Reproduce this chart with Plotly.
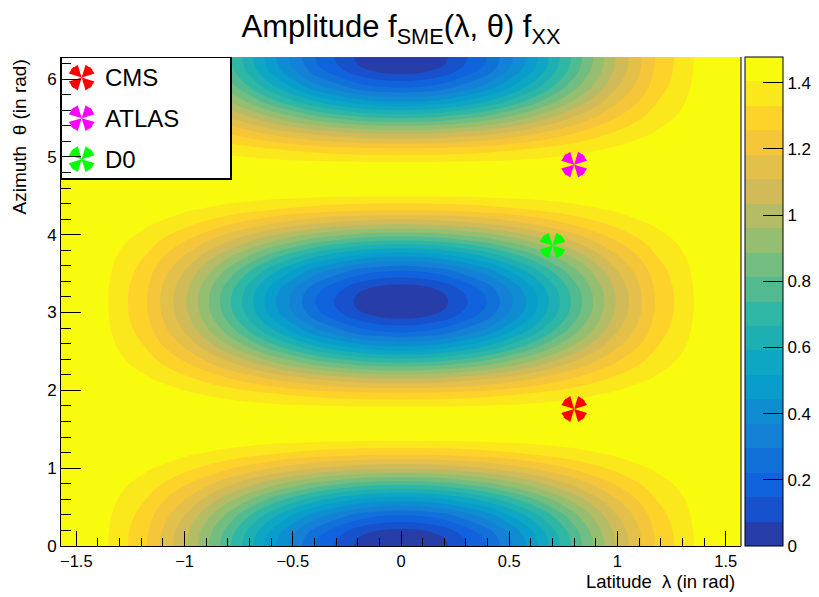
import numpy as np
import plotly.graph_objects as go

# ---------------- data ----------------
# grid of latitude (x) and azimuth (y) sample positions, in rad
lam_grid = [-1.5708, -1.3744, -1.1781, -0.9817, -0.7854, -0.5890, -0.3927, -0.1963, -0.0982, 0.0,
            0.0982, 0.1963, 0.3927, 0.5890, 0.7854, 0.9817, 1.1781, 1.3744, 1.5708]
theta_grid = [0.0, 0.0982, 0.1963, 0.3927, 0.5890, 0.7854, 0.9817, 1.1781, 1.3744, 1.5708,
              1.7671, 1.9635, 2.1598, 2.3562, 2.5525, 2.7489, 2.9452, 3.0434, 3.1416,
              3.2398, 3.3379, 3.5343, 3.7306, 3.9270, 4.1233, 4.3197, 4.5160, 4.7124,
              4.9087, 5.1051, 5.3014, 5.4978, 5.6941, 5.8905, 6.0868, 6.1850, 6.2832]

# amplitude values (rows = theta, columns = lambda)
amplitude = [
    [1.478, 1.422, 1.262, 1.022, 0.739, 0.456, 0.216, 0.056, 0.014, 0.000, 0.014, 0.056, 0.216, 0.456, 0.739, 1.022, 1.262, 1.422, 1.478],
    [1.478, 1.422, 1.264, 1.026, 0.746, 0.466, 0.229, 0.070, 0.028, 0.014, 0.028, 0.070, 0.229, 0.466, 0.746, 1.026, 1.264, 1.422, 1.478],
    [1.478, 1.424, 1.270, 1.039, 0.767, 0.495, 0.264, 0.110, 0.070, 0.056, 0.070, 0.110, 0.264, 0.495, 0.767, 1.039, 1.270, 1.424, 1.478],
    [1.478, 1.430, 1.293, 1.089, 0.847, 0.606, 0.401, 0.264, 0.229, 0.216, 0.229, 0.264, 0.401, 0.606, 0.847, 1.089, 1.293, 1.430, 1.478],
    [1.478, 1.439, 1.328, 1.163, 0.967, 0.772, 0.606, 0.495, 0.466, 0.456, 0.466, 0.495, 0.606, 0.772, 0.967, 1.163, 1.328, 1.439, 1.478],
    [1.478, 1.450, 1.370, 1.250, 1.109, 0.967, 0.847, 0.767, 0.746, 0.739, 0.746, 0.767, 0.847, 0.967, 1.109, 1.250, 1.370, 1.450, 1.478],
    [1.478, 1.461, 1.411, 1.337, 1.250, 1.163, 1.089, 1.039, 1.026, 1.022, 1.026, 1.039, 1.089, 1.163, 1.250, 1.337, 1.411, 1.461, 1.478],
    [1.478, 1.470, 1.446, 1.411, 1.370, 1.328, 1.293, 1.270, 1.264, 1.262, 1.264, 1.270, 1.293, 1.328, 1.370, 1.411, 1.446, 1.470, 1.478],
    [1.478, 1.476, 1.470, 1.461, 1.450, 1.439, 1.430, 1.424, 1.422, 1.422, 1.422, 1.424, 1.430, 1.439, 1.450, 1.461, 1.470, 1.476, 1.478],
    [1.478, 1.478, 1.478, 1.478, 1.478, 1.478, 1.478, 1.478, 1.478, 1.478, 1.478, 1.478, 1.478, 1.478, 1.478, 1.478, 1.478, 1.478, 1.478],
    [1.478, 1.476, 1.470, 1.461, 1.450, 1.439, 1.430, 1.424, 1.422, 1.422, 1.422, 1.424, 1.430, 1.439, 1.450, 1.461, 1.470, 1.476, 1.478],
    [1.478, 1.470, 1.446, 1.411, 1.370, 1.328, 1.293, 1.270, 1.264, 1.262, 1.264, 1.270, 1.293, 1.328, 1.370, 1.411, 1.446, 1.470, 1.478],
    [1.478, 1.461, 1.411, 1.337, 1.250, 1.163, 1.089, 1.039, 1.026, 1.022, 1.026, 1.039, 1.089, 1.163, 1.250, 1.337, 1.411, 1.461, 1.478],
    [1.478, 1.450, 1.370, 1.250, 1.109, 0.967, 0.847, 0.767, 0.746, 0.739, 0.746, 0.767, 0.847, 0.967, 1.109, 1.250, 1.370, 1.450, 1.478],
    [1.478, 1.439, 1.328, 1.163, 0.967, 0.772, 0.606, 0.495, 0.466, 0.456, 0.466, 0.495, 0.606, 0.772, 0.967, 1.163, 1.328, 1.439, 1.478],
    [1.478, 1.430, 1.293, 1.089, 0.847, 0.606, 0.401, 0.264, 0.229, 0.216, 0.229, 0.264, 0.401, 0.606, 0.847, 1.089, 1.293, 1.430, 1.478],
    [1.478, 1.424, 1.270, 1.039, 0.767, 0.495, 0.264, 0.110, 0.070, 0.056, 0.070, 0.110, 0.264, 0.495, 0.767, 1.039, 1.270, 1.424, 1.478],
    [1.478, 1.422, 1.264, 1.026, 0.746, 0.466, 0.229, 0.070, 0.028, 0.014, 0.028, 0.070, 0.229, 0.466, 0.746, 1.026, 1.264, 1.422, 1.478],
    [1.478, 1.422, 1.262, 1.022, 0.739, 0.456, 0.216, 0.056, 0.014, 0.000, 0.014, 0.056, 0.216, 0.456, 0.739, 1.022, 1.262, 1.422, 1.478],
    [1.478, 1.422, 1.264, 1.026, 0.746, 0.466, 0.229, 0.070, 0.028, 0.014, 0.028, 0.070, 0.229, 0.466, 0.746, 1.026, 1.264, 1.422, 1.478],
    [1.478, 1.424, 1.270, 1.039, 0.767, 0.495, 0.264, 0.110, 0.070, 0.056, 0.070, 0.110, 0.264, 0.495, 0.767, 1.039, 1.270, 1.424, 1.478],
    [1.478, 1.430, 1.293, 1.089, 0.847, 0.606, 0.401, 0.264, 0.229, 0.216, 0.229, 0.264, 0.401, 0.606, 0.847, 1.089, 1.293, 1.430, 1.478],
    [1.478, 1.439, 1.328, 1.163, 0.967, 0.772, 0.606, 0.495, 0.466, 0.456, 0.466, 0.495, 0.606, 0.772, 0.967, 1.163, 1.328, 1.439, 1.478],
    [1.478, 1.450, 1.370, 1.250, 1.109, 0.967, 0.847, 0.767, 0.746, 0.739, 0.746, 0.767, 0.847, 0.967, 1.109, 1.250, 1.370, 1.450, 1.478],
    [1.478, 1.461, 1.411, 1.337, 1.250, 1.163, 1.089, 1.039, 1.026, 1.022, 1.026, 1.039, 1.089, 1.163, 1.250, 1.337, 1.411, 1.461, 1.478],
    [1.478, 1.470, 1.446, 1.411, 1.370, 1.328, 1.293, 1.270, 1.264, 1.262, 1.264, 1.270, 1.293, 1.328, 1.370, 1.411, 1.446, 1.470, 1.478],
    [1.478, 1.476, 1.470, 1.461, 1.450, 1.439, 1.430, 1.424, 1.422, 1.422, 1.422, 1.424, 1.430, 1.439, 1.450, 1.461, 1.470, 1.476, 1.478],
    [1.478, 1.478, 1.478, 1.478, 1.478, 1.478, 1.478, 1.478, 1.478, 1.478, 1.478, 1.478, 1.478, 1.478, 1.478, 1.478, 1.478, 1.478, 1.478],
    [1.478, 1.476, 1.470, 1.461, 1.450, 1.439, 1.430, 1.424, 1.422, 1.422, 1.422, 1.424, 1.430, 1.439, 1.450, 1.461, 1.470, 1.476, 1.478],
    [1.478, 1.470, 1.446, 1.411, 1.370, 1.328, 1.293, 1.270, 1.264, 1.262, 1.264, 1.270, 1.293, 1.328, 1.370, 1.411, 1.446, 1.470, 1.478],
    [1.478, 1.461, 1.411, 1.337, 1.250, 1.163, 1.089, 1.039, 1.026, 1.022, 1.026, 1.039, 1.089, 1.163, 1.250, 1.337, 1.411, 1.461, 1.478],
    [1.478, 1.450, 1.370, 1.250, 1.109, 0.967, 0.847, 0.767, 0.746, 0.739, 0.746, 0.767, 0.847, 0.967, 1.109, 1.250, 1.370, 1.450, 1.478],
    [1.478, 1.439, 1.328, 1.163, 0.967, 0.772, 0.606, 0.495, 0.466, 0.456, 0.466, 0.495, 0.606, 0.772, 0.967, 1.163, 1.328, 1.439, 1.478],
    [1.478, 1.430, 1.293, 1.089, 0.847, 0.606, 0.401, 0.264, 0.229, 0.216, 0.229, 0.264, 0.401, 0.606, 0.847, 1.089, 1.293, 1.430, 1.478],
    [1.478, 1.424, 1.270, 1.039, 0.767, 0.495, 0.264, 0.110, 0.070, 0.056, 0.070, 0.110, 0.264, 0.495, 0.767, 1.039, 1.270, 1.424, 1.478],
    [1.478, 1.422, 1.264, 1.026, 0.746, 0.466, 0.229, 0.070, 0.028, 0.014, 0.028, 0.070, 0.229, 0.466, 0.746, 1.026, 1.264, 1.422, 1.478],
    [1.478, 1.422, 1.262, 1.022, 0.739, 0.456, 0.216, 0.056, 0.014, 0.000, 0.014, 0.056, 0.216, 0.456, 0.739, 1.022, 1.262, 1.422, 1.478],
]

# experiments
exp_names = ["CMS", "ATLAS", "D0"]
exp_lambda = [0.80, 0.80, 0.70]
exp_theta = [1.76, 4.90, 3.86]
exp_colors = ["#ff0000", "#ff00ff", "#00ff00"]

# colour axis
z_min = 0.0
z_max = 1.478
n_levels = 20
cbar_ticks = [0, 0.2, 0.4, 0.6, 0.8, 1.0, 1.2, 1.4]

# ---------------- style ----------------
FONT = "Liberation Sans"

# ROOT kBird palette
bird_stops = [0.0, 0.125, 0.25, 0.375, 0.5, 0.625, 0.75, 0.875, 1.0]
bird_r = [0.2082, 0.0592, 0.0780, 0.0232, 0.1802, 0.5301, 0.8186, 0.9956, 0.9764]
bird_g = [0.1664, 0.3599, 0.5041, 0.6419, 0.7178, 0.7492, 0.7328, 0.7862, 0.9832]
bird_b = [0.5293, 0.8684, 0.8385, 0.7914, 0.6425, 0.4662, 0.3499, 0.1968, 0.0539]


def bird(t):
    r = np.interp(t, bird_stops, bird_r)
    g = np.interp(t, bird_stops, bird_g)
    b = np.interp(t, bird_stops, bird_b)
    return "rgb(%d,%d,%d)" % (round(r * 255), round(g * 255), round(b * 255))


colorscale = []
for i in range(n_levels):
    idx = int((i + 0.99) * 255 / n_levels)
    col = bird(idx / 254.0)
    colorscale.append([i / n_levels, col])
    colorscale.append([(i + 1) / n_levels, col])

step = (z_max - z_min) / n_levels

fig = go.Figure()

fig.add_trace(go.Contour(
    x=lam_grid, y=theta_grid, z=amplitude,
    zmin=z_min, zmax=z_max, zauto=False,
    autocontour=False,
    contours=dict(start=z_min + step, end=z_max - step + 1e-6, size=step,
                  coloring="fill", showlines=False),
    line=dict(width=0, smoothing=1.0),
    colorscale=colorscale,
    hoverinfo="skip",
    colorbar=dict(
        x=1.0059, xanchor="left", y=0.5, yanchor="middle",
        len=1, lenmode="fraction", thickness=38, thicknessmode="pixels",
        xpad=0, ypad=0, outlinewidth=1, outlinecolor="black",
        ticks="inside", ticklen=20, tickwidth=1, tickcolor="black",
        tickvals=cbar_ticks, tickfont=dict(family=FONT, size=17, color="black"),
    ),
))

# experiment markers: ROOT "four triangles X" built from triangular arrow symbols
wedge_angles = [35, 55, 125, 145, 215, 235, 305, 325]
for name, lx, ty, col in zip(exp_names, exp_lambda, exp_theta, exp_colors):
    fig.add_trace(go.Scatter(
        x=[lx] * len(wedge_angles), y=[ty] * len(wedge_angles),
        mode="markers", name=name, showlegend=False, hoverinfo="skip",
        marker=dict(symbol="arrow", size=13.5, color=col, angle=wedge_angles,
                    line=dict(width=0)),
    ))

# ---------------- legend box (overlay axes in 0..1 units) ----------------
leg_x0, leg_x1, leg_y0, leg_y1 = 0.0, 0.25, 0.7505, 1.0
leg_icon_x = 0.0304
leg_rows_y = [0.958, 0.875, 0.791]

fig.add_trace(go.Scatter(
    x=[leg_x0, leg_x1, leg_x1, leg_x0, leg_x0],
    y=[leg_y0, leg_y0, leg_y1, leg_y1, leg_y0],
    xaxis="x2", yaxis="y2", mode="lines", fill="toself", fillcolor="white",
    line=dict(color="black", width=2), hoverinfo="skip", showlegend=False,
))
for name, ry, col in zip(exp_names, leg_rows_y, exp_colors):
    fig.add_trace(go.Scatter(
        x=[leg_icon_x] * len(wedge_angles), y=[ry] * len(wedge_angles),
        xaxis="x2", yaxis="y2", mode="markers", hoverinfo="skip", showlegend=False,
        marker=dict(symbol="arrow", size=13.5, color=col, angle=wedge_angles,
                    line=dict(width=0)),
    ))

annotations = []
for name, ry in zip(exp_names, leg_rows_y):
    annotations.append(dict(
        text=name, x=0.062, y=ry, xref="paper", yref="paper",
        xanchor="left", yanchor="middle", showarrow=False,
        font=dict(family=FONT, size=24, color="black"),
    ))

# axis titles
annotations.append(dict(
    text="Latitude  λ (in rad)", x=0.994, y=-0.0736, xref="paper", yref="paper",
    xanchor="right", yanchor="middle", showarrow=False,
    font=dict(family=FONT, size=18.5, color="black"),
))
annotations.append(dict(
    text="Azimuth  θ (in rad)", x=-0.0603, y=1.0, xref="paper", yref="paper",
    xanchor="center", yanchor="top", textangle=-90, showarrow=False,
    font=dict(family=FONT, size=19, color="black"),
))

fig.update_layout(
    width=819, height=597,
    margin=dict(l=61, r=78, t=57, b=51, autoexpand=False),
    paper_bgcolor="white", plot_bgcolor="white",
    font=dict(family=FONT, size=17, color="black"),
    showlegend=False,
    title=dict(
        text="Amplitude f<sub>SME</sub>(λ, θ) f<sub>XX</sub>",
        x=0.5, xref="paper", xanchor="center",
        y=0.956, yref="container", yanchor="middle",
        font=dict(family=FONT, size=31, color="black"),
    ),
    xaxis=dict(
        range=[-1.5708, 1.5708], tick0=0, dtick=0.5,
        ticks="inside", ticklen=15, tickwidth=1, tickcolor="black",
        showline=True, linecolor="black", linewidth=1,
        showgrid=False, zeroline=False, ticklabelstandoff=0,
        tickfont=dict(family=FONT, size=16.5),
        minor=dict(dtick=0.1, ticks="inside", ticklen=8, tickwidth=1,
                   tickcolor="black", showgrid=False),
    ),
    yaxis=dict(
        range=[0, 6.2832], tick0=0, dtick=1,
        ticks="inside", ticklen=20, tickwidth=1, tickcolor="black",
        showline=True, linecolor="black", linewidth=1,
        showgrid=False, zeroline=False,
        tickfont=dict(family=FONT, size=17),
        minor=dict(dtick=0.2, ticks="inside", ticklen=10, tickwidth=1,
                   tickcolor="black", showgrid=False),
    ),
    xaxis2=dict(overlaying="x", anchor="y2", range=[0, 1], visible=False, fixedrange=True),
    yaxis2=dict(overlaying="y", anchor="x2", range=[0, 1], visible=False, fixedrange=True),
    annotations=annotations,
    shapes=[dict(type="line", xref="paper", yref="paper", x0=1, x1=1, y0=0, y1=1,
                 line=dict(color="#555555", width=1.5))],
)

# remove the browser's default page margin so the figure fills the window exactly
fig.write_html("out.html",
               config={"displayModeBar": False},
               post_script="document.body.style.margin='0';document.body.style.overflow='hidden';")
